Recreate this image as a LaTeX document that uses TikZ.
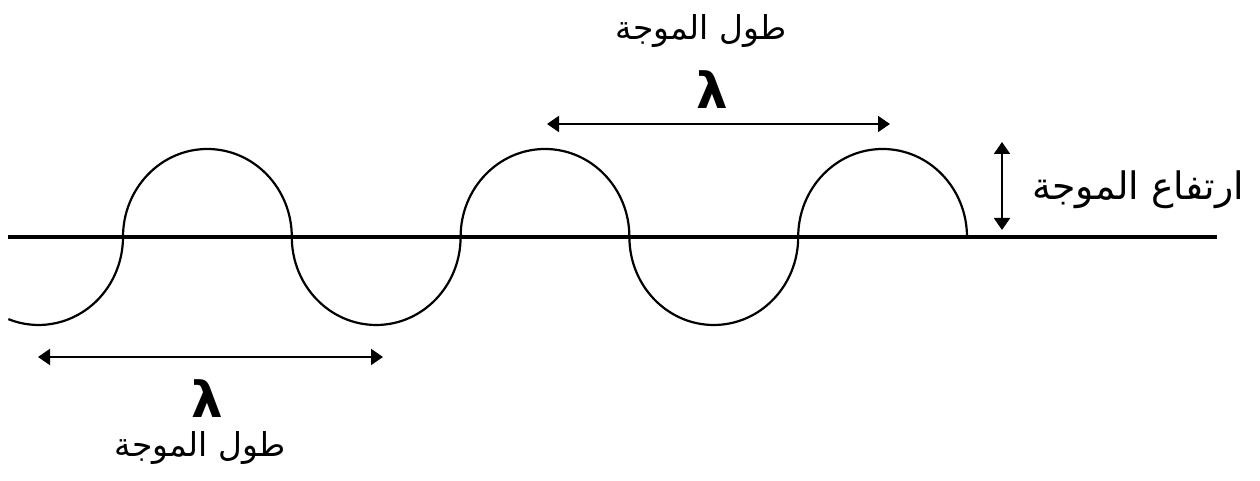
\documentclass[tikz,border=0pt]{standalone}
\usepackage{fontspec}
\setmainfont{DejaVu Sans}
\newfontfamily\arabicfont[Script=Arabic]{DejaVu Sans}
\TeXXeTstate=1
\usetikzlibrary{arrows.meta}
\begin{document}
\begin{tikzpicture}[x=1bp,y=1bp,
  wave/.style={line width=2.2bp},
  baseline/.style={line width=4bp},
  dim/.style={line width=2bp,{Triangle[length=12bp,width=16bp]}-{Triangle[length=12bp,width=16bp]}},
  arlabel/.style={font=\arabicfont\fontsize{33}{38}\selectfont, inner sep=0pt},
  lam/.style={font=\bfseries\fontsize{50}{54}\selectfont, inner sep=0pt}]
\useasboundingbox (0,0) rectangle (1260,481);
% baseline
\coordinate (bl) at (8,244);
\coordinate (br) at (1217,244);
\draw[baseline] (bl) -- (br);
% wave
\coordinate (w0) at (8.35,161.85);
\draw[wave] (w0) arc[start angle=249,end angle=360,x radius=84.4,y radius=88]
  arc[start angle=180,end angle=0,x radius=84.4,y radius=88]
  arc[start angle=180,end angle=360,x radius=84.4,y radius=88]
  arc[start angle=180,end angle=0,x radius=84.4,y radius=88]
  arc[start angle=180,end angle=360,x radius=84.4,y radius=88]
  arc[start angle=180,end angle=0,x radius=84.4,y radius=88];
% top wavelength
\coordinate (ta) at (547,357);
\coordinate (tb) at (890,357);
\draw[dim] (ta) -- (tb);
\node[lam] (tlam) at (712,391) {λ};
\node[arlabel] (tlab) at (701,450) {\beginR طول الموجة\endR};
% bottom wavelength
\coordinate (ba) at (38,124);
\coordinate (bb) at (383,124);
\draw[dim] (ba) -- (bb);
\node[lam] (blam) at (207,82) {λ};
\node[arlabel] (blab) at (200,33) {\beginR طول الموجة\endR};
% amplitude
\coordinate (aa) at (1002,339);
\coordinate (ab) at (1002,251);
\draw[dim] (aa) -- (ab);
\node[arlabel, font=\arabicfont\fontsize{38}{42}\selectfont] (alab) at (1138,291) {\beginR ارتفاع الموجة\endR};
\end{tikzpicture}
\end{document}
